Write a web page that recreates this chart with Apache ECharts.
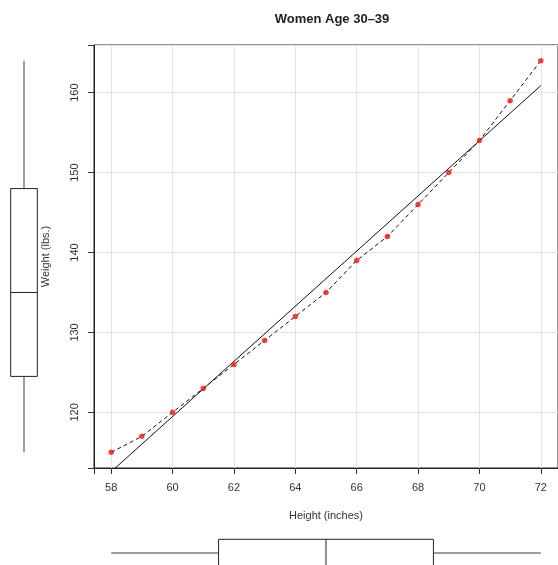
<!DOCTYPE html>
<html><head><meta charset="utf-8">
<script src="https://cdn.jsdelivr.net/npm/echarts@6/dist/echarts.min.js"></script>
<style>html,body{margin:0;padding:0;background:#fff}#c{width:558px;height:565px}</style>
</head><body><div id="c"></div>
<script>
// Data (women dataset)
const heights = [58,59,60,61,62,63,64,65,66,67,68,69,70,71,72];
const weights = [115,117,120,123,126,129,132,135,139,142,146,150,154,159,164];
// fitted regression line end points
const fitX = [58, 72];
const fitY = [112.58, 160.88];
// box plot statistics [min, q1, median, q3, max]
const heightStats = [58, 61.5, 65, 68.5, 72];
const weightStats = [115, 124.5, 135, 148, 164];
// tick labels
const xTicks = [58,60,62,64,66,68,70,72];
const yTicks = [120,130,140,150,160];
const xRange = [57.44, 72.56];
const yRange = [113.04, 165.96];

const FONT = '"Liberation Sans", Arial, sans-serif';
const TXT = '#333';

function boxRenderer(vertical, center, hw){
  return function(params, api){
    const s = [0,1,2,3,4].map(i => api.value(i));
    const P = v => vertical ? api.coord([center, v]) : api.coord([v, center]);
    const Q = (off, v) => vertical ? api.coord([center+off, v]) : api.coord([v, center+off]);
    const pMin=P(s[0]), pQ1=P(s[1]), pQ3=P(s[3]), pMax=P(s[4]);
    const a1=Q(-hw,s[1]), a3=Q(hw,s[3]);
    const m1=Q(-hw,s[2]), m2=Q(hw,s[2]);
    const wStyle = {stroke:'#7a7a7a', lineWidth:1.5};
    const bStyle = {stroke:'#222', lineWidth:1, fill:'#fff'};
    return {type:'group', children:[
      {type:'line', shape:{x1:pMin[0],y1:pMin[1],x2:pQ1[0],y2:pQ1[1]}, style:wStyle},
      {type:'line', shape:{x1:pQ3[0],y1:pQ3[1],x2:pMax[0],y2:pMax[1]}, style:wStyle},
      {type:'rect', shape:{x:Math.min(a1[0],a3[0]), y:Math.min(a1[1],a3[1]), width:Math.abs(a3[0]-a1[0]), height:Math.abs(a3[1]-a1[1])}, style:bStyle},
      {type:'line', shape:{x1:m1[0],y1:m1[1],x2:m2[0],y2:m2[1]}, style:{stroke:'#222', lineWidth:1}}
    ]};
  };
}

const chart = echarts.init(document.getElementById('c'), null, {renderer:'canvas'});
chart.setOption({
  animation:false,
  backgroundColor:'#fff',
  title:{text:'Women Age 30\u201339', left:327, top:8, textAlign:'center',
    textStyle:{fontFamily:FONT, fontSize:13, fontWeight:'bold', color:'#222'}},
  grid:[
    {left:94, width:465, top:45, height:423, show:true, borderColor:'#222', borderWidth:1, containLabel:false},
    {left:0, width:48, top:45, height:423, containLabel:false},
    {left:94, width:465, top:525, height:40, containLabel:false}
  ],
  xAxis:[
    {type:'value', gridIndex:0, min:xRange[0], max:xRange[1], splitNumber:7,
     name:'Height (inches)', nameLocation:'middle', nameGap:42,
     nameTextStyle:{fontFamily:FONT, fontSize:11, color:TXT},
     axisLine:{show:true, onZero:false, lineStyle:{color:'#222'}},
     axisTick:{show:true, inside:false, length:6, lineStyle:{color:'#333', width:1}},
     axisLabel:{customValues:xTicks, margin:14, fontFamily:FONT, fontSize:11, color:TXT},
     splitLine:{show:true, lineStyle:{color:'#e3e3e3', width:1}}},
    {type:'value', gridIndex:1, min:0, max:48, show:false},
    {type:'value', gridIndex:2, min:xRange[0], max:xRange[1], show:false}
  ],
  yAxis:[
    {type:'value', gridIndex:0, min:yRange[0], max:yRange[1], splitNumber:5,
     name:'Weight (lbs.)', nameLocation:'middle', nameGap:43, nameRotate:90,
     nameTextStyle:{fontFamily:FONT, fontSize:11, color:TXT},
     axisLine:{show:true, onZero:false, lineStyle:{color:'#222'}},
     axisTick:{show:true, inside:false, length:6, lineStyle:{color:'#333', width:1}},
     axisLabel:{customValues:yTicks, rotate:90, margin:14, fontFamily:FONT, fontSize:11, color:TXT},
     splitLine:{show:true, lineStyle:{color:'#e3e3e3', width:1}}},
    {type:'value', gridIndex:1, min:yRange[0], max:yRange[1], show:false},
    {type:'value', gridIndex:2, min:0, max:40, show:false}
  ],
  series:[
    {type:'line', xAxisIndex:0, yAxisIndex:0, data:fitX.map((x,i)=>[x,fitY[i]]),
     showSymbol:false, symbol:'none', lineStyle:{color:'#111', width:1}, z:2, clip:true},
    {type:'line', xAxisIndex:0, yAxisIndex:0, data:heights.map((x,i)=>[x,weights[i]]),
     showSymbol:false, symbol:'none', lineStyle:{color:'#111', width:1, type:[4,3]}, z:3},
    {type:'scatter', xAxisIndex:0, yAxisIndex:0, data:heights.map((x,i)=>[x,weights[i]]),
     symbolSize:5.5, itemStyle:{color:'#f01515'}, z:4},
    {type:'custom', xAxisIndex:1, yAxisIndex:1, data:[weightStats],
     renderItem:boxRenderer(true, 24, 13.3), clip:false},
    {type:'custom', xAxisIndex:2, yAxisIndex:2, data:[heightStats],
     renderItem:boxRenderer(false, 12, 13.7), clip:false}
  ]
});
</script>
</body></html>
